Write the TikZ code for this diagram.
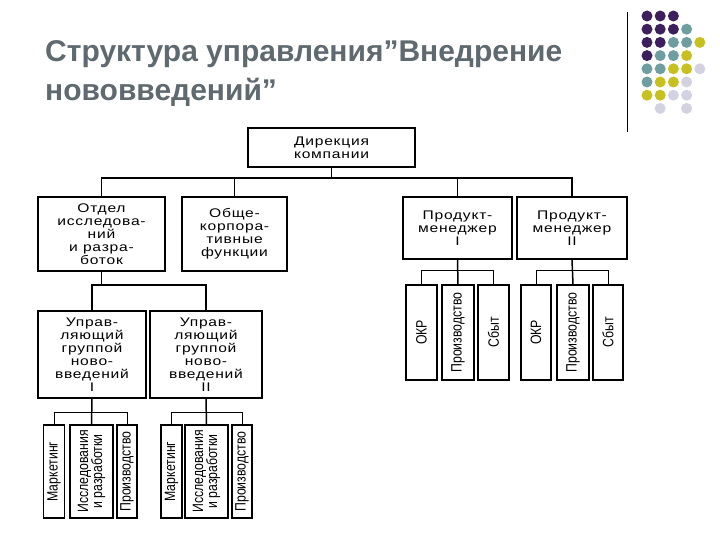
\documentclass[tikz,border=0pt]{standalone}
\usepackage{fontspec}
\setmainfont{Liberation Sans}
\newfontfamily\boxfont[LetterSpace=6,FakeStretch=1.25]{Liberation Sans}
\newfontfamily\narrowfont[FakeStretch=0.82]{Liberation Sans}
\begin{document}
\begin{tikzpicture}[x=1pt,y=-1pt,
  box/.style={draw,line width=1.6pt,inner sep=0pt,align=center,font=\boxfont\fontsize{12.5}{13}\selectfont},
  vbox/.style={draw,line width=1.4pt,inner sep=0pt},
  vt/.style={rotate=90,font=\narrowfont\fontsize{15}{14}\selectfont,align=center,inner sep=0pt},
  ln/.style={line width=1.5pt},
  thin/.style={line width=1pt},
  dot/.style={circle,fill,inner sep=0pt,minimum size=11pt}]
\useasboundingbox (0,0) rectangle (720,540);
\definecolor{tg}{HTML}{5E6A70}
\definecolor{dp}{HTML}{3C1F5C}
\definecolor{dt}{HTML}{6F9EA0}
\definecolor{dy}{HTML}{C8C020}
\definecolor{dl}{HTML}{D2D2E2}
% title
\node[anchor=base west,text=tg,font=\bfseries\fontsize{30}{34}\selectfont,inner sep=0pt] (t1) at (45,62) {Структура управления”Внедрение};
\node[anchor=base west,text=tg,font=\bfseries\fontsize{30}{34}\selectfont,inner sep=0pt] (t2) at (45,101) {нововведений”};
\draw[line width=1pt] (627,12) -- (627,132);
% dots
\foreach \x/\y/\c in {0/0/dp,1/0/dp,2/0/dp,
 0/1/dp,1/1/dp,2/1/dp,3/1/dt,
 0/2/dp,1/2/dp,2/2/dt,3/2/dt,4/2/dy,
 0/3/dp,1/3/dt,2/3/dt,3/3/dy,
 0/4/dt,1/4/dt,2/4/dy,3/4/dy,4/4/dl,
 0/5/dt,1/5/dy,2/5/dy,3/5/dl,
 0/6/dy,1/6/dy,2/6/dl,3/6/dl,
 1/7/dl,3/7/dl}
 \node[dot,fill=\c] (d\x\y) at ({647+13.2*\x},{16+13.2*\y}) {};
% boxes
\node[box,minimum width=167,minimum height=39] (dir) at (331.5,147.5) {Дирекция\\компании};
\node[box,minimum width=127,minimum height=74] (otd) at (101.5,234) {Отдел\\исследова-\\ний\\и разра-\\боток};
\node[box,minimum width=105,minimum height=74] (obs) at (234.5,234) {Обще-\\корпора-\\тивные\\функции};
\node[box,minimum width=109,minimum height=62] (pm1) at (457.5,228) {Продукт-\\менеджер\\I};
\node[box,minimum width=110,minimum height=62] (pm2) at (572,228) {Продукт-\\менеджер\\II};
\node[box,minimum width=108,minimum height=87] (up1) at (92,354.5) {Управ-\\ляющий\\группой\\ново-\\введений\\I};
\node[box,minimum width=112,minimum height=87] (up2) at (206,354.5) {Управ-\\ляющий\\группой\\ново-\\введений\\II};
% product subs
\node[vbox,minimum width=31,minimum height=95] (a1) at (421.5,332.5) {};
\node[vbox,minimum width=32,minimum height=95] (a2) at (458,332.5) {};
\node[vbox,minimum width=31,minimum height=95] (a3) at (493.5,332.5) {};
\node[vbox,minimum width=30,minimum height=95] (b1) at (536,332.5) {};
\node[vbox,minimum width=32,minimum height=95] (b2) at (573,332.5) {};
\node[vbox,minimum width=30,minimum height=95] (b3) at (608,332.5) {};
\foreach \n/\t in {a1/ОКР,a2/Производство,a3/Сбыт,b1/ОКР,b2/Производство,b3/Сбыт}
  \node[vt] at (\n) {\t};
% innovation subs
\node[vbox,minimum width=21,minimum height=93] (c1) at (54,471.5) {};
\node[vbox,minimum width=43,minimum height=93] (c2) at (91.5,471.5) {};
\node[vbox,minimum width=20,minimum height=93] (c3) at (127,471.5) {};
\node[vbox,minimum width=21,minimum height=93] (e1) at (171.5,471.5) {};
\node[vbox,minimum width=43,minimum height=93] (e2) at (206.5,471.5) {};
\node[vbox,minimum width=20,minimum height=93] (e3) at (242,471.5) {};
\foreach \n/\t in {c1/Маркетинг,c2/{Исследования\\и разработки},c3/Производство,e1/Маркетинг,e2/{Исследования\\и разработки},e3/Производство}
  \node[vt] at (\n) {\t};
% connectors
\coordinate (yb) at (0,178);
\draw[ln] (dir.south) -- (dir.south |- yb);
\draw[ln] (otd.north) |- (pm2.north |- yb) -- (pm2.north);
\draw[ln] (obs.north) -- (obs.north |- yb);
\draw[ln] (pm1.north) -- (pm1.north |- yb);
\coordinate (y2) at (0,285);
\draw[ln] (otd.south) -- (otd.south |- y2);
\draw[ln] (up1.north) |- (up2.north |- y2) -- (up2.north);
\coordinate (y3) at (0,270);
\draw[ln] (pm1.south) -- (a2.north);
\draw[thin] (a1.north) |- (a3.north |- y3) -- (a3.north);
\draw[ln] (pm2.south) -- (b2.north);
\draw[thin] (b1.north) |- (b3.north |- y3) -- (b3.north);
\coordinate (y4) at (0,412);
\draw[ln] (up1.south) -- (c2.north);
\draw[thin] (c1.north) |- (c3.north |- y4) -- (c3.north);
\draw[ln] (up2.south) -- (e2.north);
\draw[thin] (e1.north) |- (e3.north |- y4) -- (e3.north);
\end{tikzpicture}
\end{document}
